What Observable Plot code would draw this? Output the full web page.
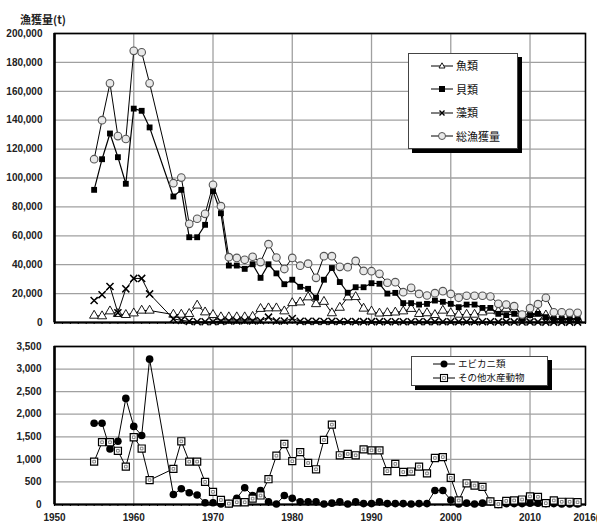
<!DOCTYPE html>
<html><head><meta charset="utf-8">
<script src="https://cdn.jsdelivr.net/npm/d3@7"></script>
<script src="https://cdn.jsdelivr.net/npm/@observablehq/plot@0.6"></script>
<style>
body{margin:0;background:#fff;font-family:"Noto Sans CJK JP","Liberation Sans",sans-serif;}
#wrap{position:relative;width:597px;height:523px;overflow:hidden;}
#wrap svg{display:block;}
.ylab{position:absolute;left:20px;top:13px;font-size:11px;line-height:13px;font-weight:bold;color:#222;}
.legend{position:absolute;background:#fff;border:1px solid #444;box-shadow:4px 4px 0 #000;}
.item{position:absolute;display:flex;align-items:center;font-size:11px;color:#111;white-space:nowrap;line-height:11px;height:11px;}
.item svg{margin-right:3px;flex:none;}
.item span{display:block;line-height:11px;height:11px;}
.small .item{font-size:9.5px;}
</style></head><body><div id="wrap"></div>
<script>
// ---- data ----
const years = [1955,1956,1957,1958,1959,1960,1961,1962,1965,1966,1967,1968,1969,1970,1971,1972,1973,1974,1975,1976,1977,1978,1979,1980,1981,1982,1983,1984,1985,1986,1987,1988,1989,1990,1991,1992,1993,1994,1995,1996,1997,1998,1999,2000,2001,2002,2003,2004,2005,2006,2007,2008,2009,2010,2011,2012,2013,2014,2015,2016];
const fish = [4800,4400,7800,6000,5300,6400,8300,8300,5500,5500,6000,11800,7100,5300,3700,3700,3700,3700,4000,9500,9900,9900,7800,13500,14000,17500,12800,14400,6500,10300,17500,17700,9700,7700,6300,6600,7000,7800,9500,6000,6500,5300,8300,6500,5500,5500,5500,7100,8300,7800,9500,9000,2000,6000,6500,5000,2500,2500,2500,2500];
const shell = [91800,113000,130800,114400,96000,148000,146500,135000,87200,91800,59000,59000,67600,90900,75600,39400,39400,37100,40300,30900,40300,34000,26500,29600,24700,23300,17200,29600,37700,28000,20600,24400,24400,27200,26800,20000,20500,13400,13400,12400,12900,15200,14300,12900,10600,12400,12400,10100,10100,6000,5100,6000,2500,5100,6000,3700,2500,2500,2500,2500];
const seaweed = [15200,19200,24900,6700,23300,30500,30500,19800,2500,1500,800,500,500,500,800,1000,1000,1200,1000,1200,3700,1000,1000,2800,800,800,800,700,800,700,700,600,600,600,600,500,500,500,500,500,500,500,500,500,500,500,500,500,500,400,400,400,400,400,400,300,300,300,300,300];
const total = [113000,140000,165500,129000,127000,188000,187000,165500,96400,100300,68300,71800,75200,95300,80500,45200,44700,43400,45500,41800,54200,45000,37000,44700,39300,40700,30900,45900,45900,38500,38300,42600,35700,35500,33700,27500,27900,21000,24000,19800,18700,20300,21700,19800,17100,18500,18500,18500,18000,12900,12400,11300,5500,9900,12700,17100,7100,7100,6700,6700];
const shrimp = [1800,1800,1230,1400,2350,1730,1530,3220,220,350,260,210,40,40,10,20,140,370,200,310,60,10,200,140,60,60,60,10,30,60,10,60,20,20,60,20,20,20,10,20,20,310,310,100,10,30,10,30,70,0,20,20,20,30,30,20,20,10,10,10];
const other = [950,1380,1380,1190,840,1490,1240,540,790,1400,950,950,500,280,100,20,50,50,130,200,560,1080,1340,960,1160,920,780,1430,1770,1090,1120,1090,1220,1200,1200,740,900,720,730,840,690,1030,1050,590,90,470,420,390,70,10,80,90,110,180,170,30,90,60,60,50];

const topTicks = [0,20000,40000,60000,80000,100000,120000,140000,160000,180000,200000];
const botTicks = [0,500,1000,1500,2000,2500,3000,3500];
const decadeTicks = [1950,1960,1970,1980,1990,2000,2010];
const yearTicks = d3.range(1950, 2018);
const topSeries = [
  {name:"魚類", values: fish},
  {name:"貝類", values: shell},
  {name:"藻類", values: seaweed},
  {name:"総漁獲量", values: total}
];
const botSeries = [
  {name:"エビカニ類", values: shrimp},
  {name:"その他水産動物", values: other}
];
const rows = v => years.map((y,i)=>({year:y, value:v[i]}));

const styleBase = {fontSize:"10px", fontWeight:"bold", fontFamily:"'Liberation Sans', Arial, sans-serif", color:"#222", background:"#fff"};
const fmt = d3.format(",");

const topPlot = Plot.plot({
  width: 597, height: 330,
  marginLeft: 54, marginRight: 12, marginTop: 33, marginBottom: 8,
  style: styleBase,
  x: {domain:[1950,2017], axis:null},
  y: {domain:[0,200000], axis:null},
  marks: [
    Plot.gridX(decadeTicks.slice(1), {stroke:"#a0a0a0", strokeOpacity:1, strokeWidth:1.3}),
    Plot.gridY(topTicks.slice(1), {stroke:"#a0a0a0", strokeOpacity:1, strokeWidth:1.3}),
    Plot.axisY(topTicks, {tickSize:0, tickPadding:12, tickFormat:fmt, label:null, fill:"#222"}),
    Plot.axisX(yearTicks, {tickSize:2, text:null, label:null, stroke:"#000"}),
    Plot.frame({stroke:"#000", strokeWidth:1.6}),
    Plot.ruleX([1950], {stroke:"#000", strokeWidth:2.5}),
    Plot.ruleY([0], {stroke:"#000", strokeWidth:2}),
    // 魚類
    Plot.line(rows(fish), {x:"year", y:"value", stroke:"#000", strokeWidth:1}),
    Plot.dot(rows(fish), {x:"year", y:"value", symbol:"triangle", r:3.4, fill:"#fff", stroke:"#000", strokeWidth:0.9}),
    // 貝類
    Plot.line(rows(shell), {x:"year", y:"value", stroke:"#000", strokeWidth:1.2}),
    Plot.dot(rows(shell), {x:"year", y:"value", symbol:"square", r:3.3, fill:"#000", stroke:"none"}),
    // 藻類
    Plot.line(rows(seaweed), {x:"year", y:"value", stroke:"#000", strokeWidth:1}),
    Plot.dot(rows(seaweed), {x:"year", y:"value", symbol:"times", r:3.3, stroke:"#000", strokeWidth:1.5}),
    // 総漁獲量
    Plot.line(rows(total), {x:"year", y:"value", stroke:"#000", strokeWidth:1}),
    Plot.dot(rows(total), {x:"year", y:"value", symbol:"circle", r:3.8, fill:"#e8e8e8", stroke:"#555", strokeWidth:1.1})
  ]
});

const botPlot = Plot.plot({
  width: 597, height: 193,
  marginLeft: 54, marginRight: 12, marginTop: 16, marginBottom: 19,
  style: styleBase,
  x: {domain:[1950,2017], axis:null},
  y: {domain:[0,3500], axis:null},
  marks: [
    Plot.gridX(decadeTicks.slice(1), {stroke:"#a0a0a0", strokeOpacity:1, strokeWidth:1.3}),
    Plot.gridY(botTicks.slice(1), {stroke:"#a0a0a0", strokeOpacity:1, strokeWidth:1.3}),
    Plot.axisY(botTicks, {tickSize:0, tickPadding:13, tickFormat:fmt, label:null, fill:"#222"}),
    Plot.axisX(decadeTicks, {tickSize:0, tickPadding:9, tickFormat:d=>String(d), label:null, fill:"#222"}),
    Plot.axisX(yearTicks, {tickSize:2, text:null, label:null, stroke:"#000"}),
    Plot.text(["2016(年)"], {x:[2017], frameAnchor:"bottom", lineAnchor:"top", dy:9, dx:-12, textAnchor:"start", fill:"#222"}),
    Plot.frame({stroke:"#000", strokeWidth:1.6}),
    Plot.ruleX([1950], {stroke:"#000", strokeWidth:2.5}),
    Plot.ruleY([0], {stroke:"#000", strokeWidth:2}),
    // エビカニ類
    Plot.line(rows(shrimp), {x:"year", y:"value", stroke:"#000", strokeWidth:1}),
    Plot.dot(rows(shrimp), {x:"year", y:"value", symbol:"circle", r:3.8, fill:"#000"}),
    // その他水産動物
    Plot.line(rows(other), {x:"year", y:"value", stroke:"#000", strokeWidth:1}),
    Plot.dot(rows(other), {x:"year", y:"value", symbol:"square", r:4, fill:"#fff", stroke:"#000", strokeWidth:1.2}),
    Plot.dot(rows(other), {x:"year", y:"value", symbol:"square", r:1.5, fill:"none", stroke:"#666", strokeWidth:0.8})
  ]
});

const wrap = document.getElementById("wrap");
wrap.appendChild(topPlot);
wrap.appendChild(botPlot);

const lab = document.createElement("div");
lab.className = "ylab"; lab.textContent = "漁獲量(t)";
wrap.appendChild(lab);

// legend glyphs
function glyph(kind){
  const w = 22, h = 10, c = 11, m = 5;
  let s = `<line x1="0" y1="${m}" x2="${w}" y2="${m}" stroke="#000" stroke-width="1"/>`;
  if(kind==="triangle") s += `<path d="M${c},${m-3.2}L${c+3},${m+2}L${c-3},${m+2}Z" fill="#fff" stroke="#000" stroke-width="0.9"/>`;
  if(kind==="square") s += `<rect x="${c-3}" y="${m-3}" width="6" height="6" fill="#000"/>`;
  if(kind==="times") s += `<path d="M${c-2.5},${m-2.5}L${c+2.5},${m+2.5}M${c+2.5},${m-2.5}L${c-2.5},${m+2.5}" stroke="#000" stroke-width="1.4"/>`;
  if(kind==="circle") s += `<circle cx="${c}" cy="${m}" r="3.5" fill="#e8e8e8" stroke="#555" stroke-width="1"/>`;
  if(kind==="dot") s += `<circle cx="${c}" cy="${m}" r="3.5" fill="#000"/>`;
  if(kind==="osquare") s += `<rect x="${c-3.5}" y="${m-3.5}" width="7" height="7" fill="#fff" stroke="#000" stroke-width="1.1"/><rect x="${c-1.3}" y="${m-1.3}" width="2.6" height="2.6" fill="none" stroke="#666" stroke-width="0.7"/>`;
  return `<svg width="${w}" height="${h}">${s}</svg>`;
}
function legend(box, items, cls){
  const d = document.createElement("div");
  d.className = "legend" + (cls ? " " + cls : "");
  Object.assign(d.style, {left:box.left+"px", top:box.top+"px", width:box.width+"px", height:box.height+"px"});
  items.forEach(it=>{
    const e = document.createElement("div");
    e.className = "item";
    e.style.left = it.left+"px"; e.style.top = it.top+"px";
    e.innerHTML = glyph(it.kind) + `<span>${it.name}</span>`;
    d.appendChild(e);
  });
  wrap.appendChild(d);
}
const topKinds = ["triangle","square","times","circle"];
legend({left:408, top:53, width:108, height:94},
  topSeries.map((s,i)=>({name:s.name, kind:topKinds[i], left:22, top:6 + i*23.5})));
const botKinds = ["dot","osquare"];
legend({left:411, top:356, width:135, height:28},
  botSeries.map((s,i)=>({name:s.name, kind:botKinds[i], left:21, top:1 + i*14})), "small");
</script></body></html>
